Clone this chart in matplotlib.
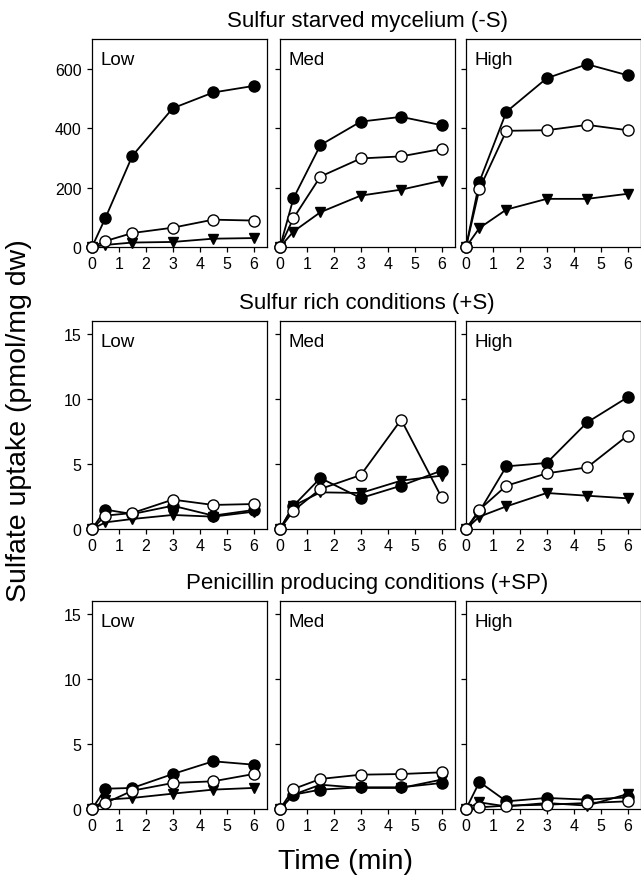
# sulfate uptake panels: 3 conditions x 3 concentrations
import matplotlib
matplotlib.use('Agg')
import matplotlib.pyplot as plt

plt.rcParams['font.family'] = ['Liberation Sans', 'DejaVu Sans']

times = [0, 0.5, 1.5, 3, 4.5, 6]
levels = ['Low', 'Med', 'High']
row_titles = ['Sulfur starved mycelium (-S)',
              'Sulfur rich conditions (+S)',
              'Penicillin producing conditions (+SP)']

# each list: [Low, Med, High]
starved_filled = [[0, 98, 307, 467, 520, 542], [0, 164, 343, 422, 438, 410], [0, 220, 455, 568, 615, 578]]
starved_open = [[0, 20, 47, 65, 92, 89], [0, 97, 237, 298, 305, 330], [0, 196, 391, 393, 411, 393]]
starved_tri = [[0, 7, 15, 17, 28, 30], [0, 52, 117, 173, 193, 223], [0, 64, 126, 162, 162, 179]]

rich_filled = [[0, 1.49, 1.15, 1.79, 1.03, 1.46], [0, 1.79, 3.92, 2.38, 3.33, 4.49], [0, 1.35, 4.82, 5.08, 8.2, 10.13]]
rich_open = [[0, 1.03, 1.23, 2.26, 1.85, 1.92], [0, 1.41, 3.08, 4.15, 8.41, 2.44], [0, 1.49, 3.33, 4.28, 4.74, 7.18]]
rich_tri = [[0, 0.51, 0.77, 1.08, 0.95, 1.33], [0, 1.79, 2.82, 2.77, 3.72, 4.1], [0, 0.95, 1.74, 2.77, 2.56, 2.36]]

pen_filled = [[0, 1.56, 1.62, 2.69, 3.67, 3.41], [0, 1.1, 1.49, 1.67, 1.67, 2.0], [0, 2.08, 0.59, 0.85, 0.72, 0.9]]
pen_open = [[0, 0.46, 1.41, 2.0, 2.13, 2.69], [0, 1.54, 2.31, 2.64, 2.69, 2.82], [0, 0.13, 0.26, 0.33, 0.46, 0.59]]
pen_tri = [[0, 0.72, 0.85, 1.18, 1.49, 1.62], [0, 1.1, 1.87, 1.62, 1.62, 2.26], [0, 0.51, 0.2, 0.46, 0.26, 1.15]]

rows = [(starved_filled, starved_open, starved_tri),
        (rich_filled, rich_open, rich_tri),
        (pen_filled, pen_open, pen_tri)]
ylims = [700, 16, 16]
yticks = [[0, 200, 400, 600], [0, 5, 10, 15], [0, 5, 10, 15]]

W, H = 641, 878
fig = plt.figure(figsize=(W / 100, H / 100), dpi=100)

col_left = [92, 280, 466]
col_w = 175
row_top = [40, 322, 602]
row_h = 208

for r in range(3):
    filled, opn, tri = rows[r]
    for c in range(3):
        ax = fig.add_axes([col_left[c] / W, 1 - (row_top[r] + row_h) / H, col_w / W, row_h / H])
        ax.plot(times, tri[c], color='black', lw=1.3, marker='v', ms=7,
                mfc='black', mec='black', zorder=2, clip_on=False)
        ax.plot(times, filled[c], color='black', lw=1.3, marker='o', ms=8,
                mfc='black', mec='black', zorder=3, clip_on=False)
        ax.plot(times, opn[c], color='black', lw=1.3, marker='o', ms=8,
                mfc='white', mec='black', mew=1.0, zorder=4, clip_on=False)
        ax.set_xlim(0, 6.5)
        ax.set_ylim(0, ylims[r])
        ax.set_xticks(range(7))
        ax.set_yticks(yticks[r])
        ax.tick_params(direction='out', length=3.5, width=0.9, labelsize=11.5, pad=3)
        ax.tick_params(axis='y', pad=4)
        if c > 0:
            ax.set_yticklabels([])
        for s in ax.spines.values():
            s.set_linewidth(0.9)
        ax.text(0.05, 0.94, levels[c], transform=ax.transAxes, fontsize=13.5,
                ha='left', va='top')
    fig.text(367 / W, 1 - (row_top[r] - 18) / H, row_titles[r], fontsize=16,
             ha='center', va='center')

fig.text(19 / W, 1 - 421 / H, 'Sulfate uptake (pmol/mg dw)', fontsize=20.5,
         rotation=90, ha='center', va='center')
fig.text(345 / W, 1 - 862 / H, 'Time (min)', fontsize=20.5, ha='center', va='center')

fig.savefig('out.png', dpi=100)
